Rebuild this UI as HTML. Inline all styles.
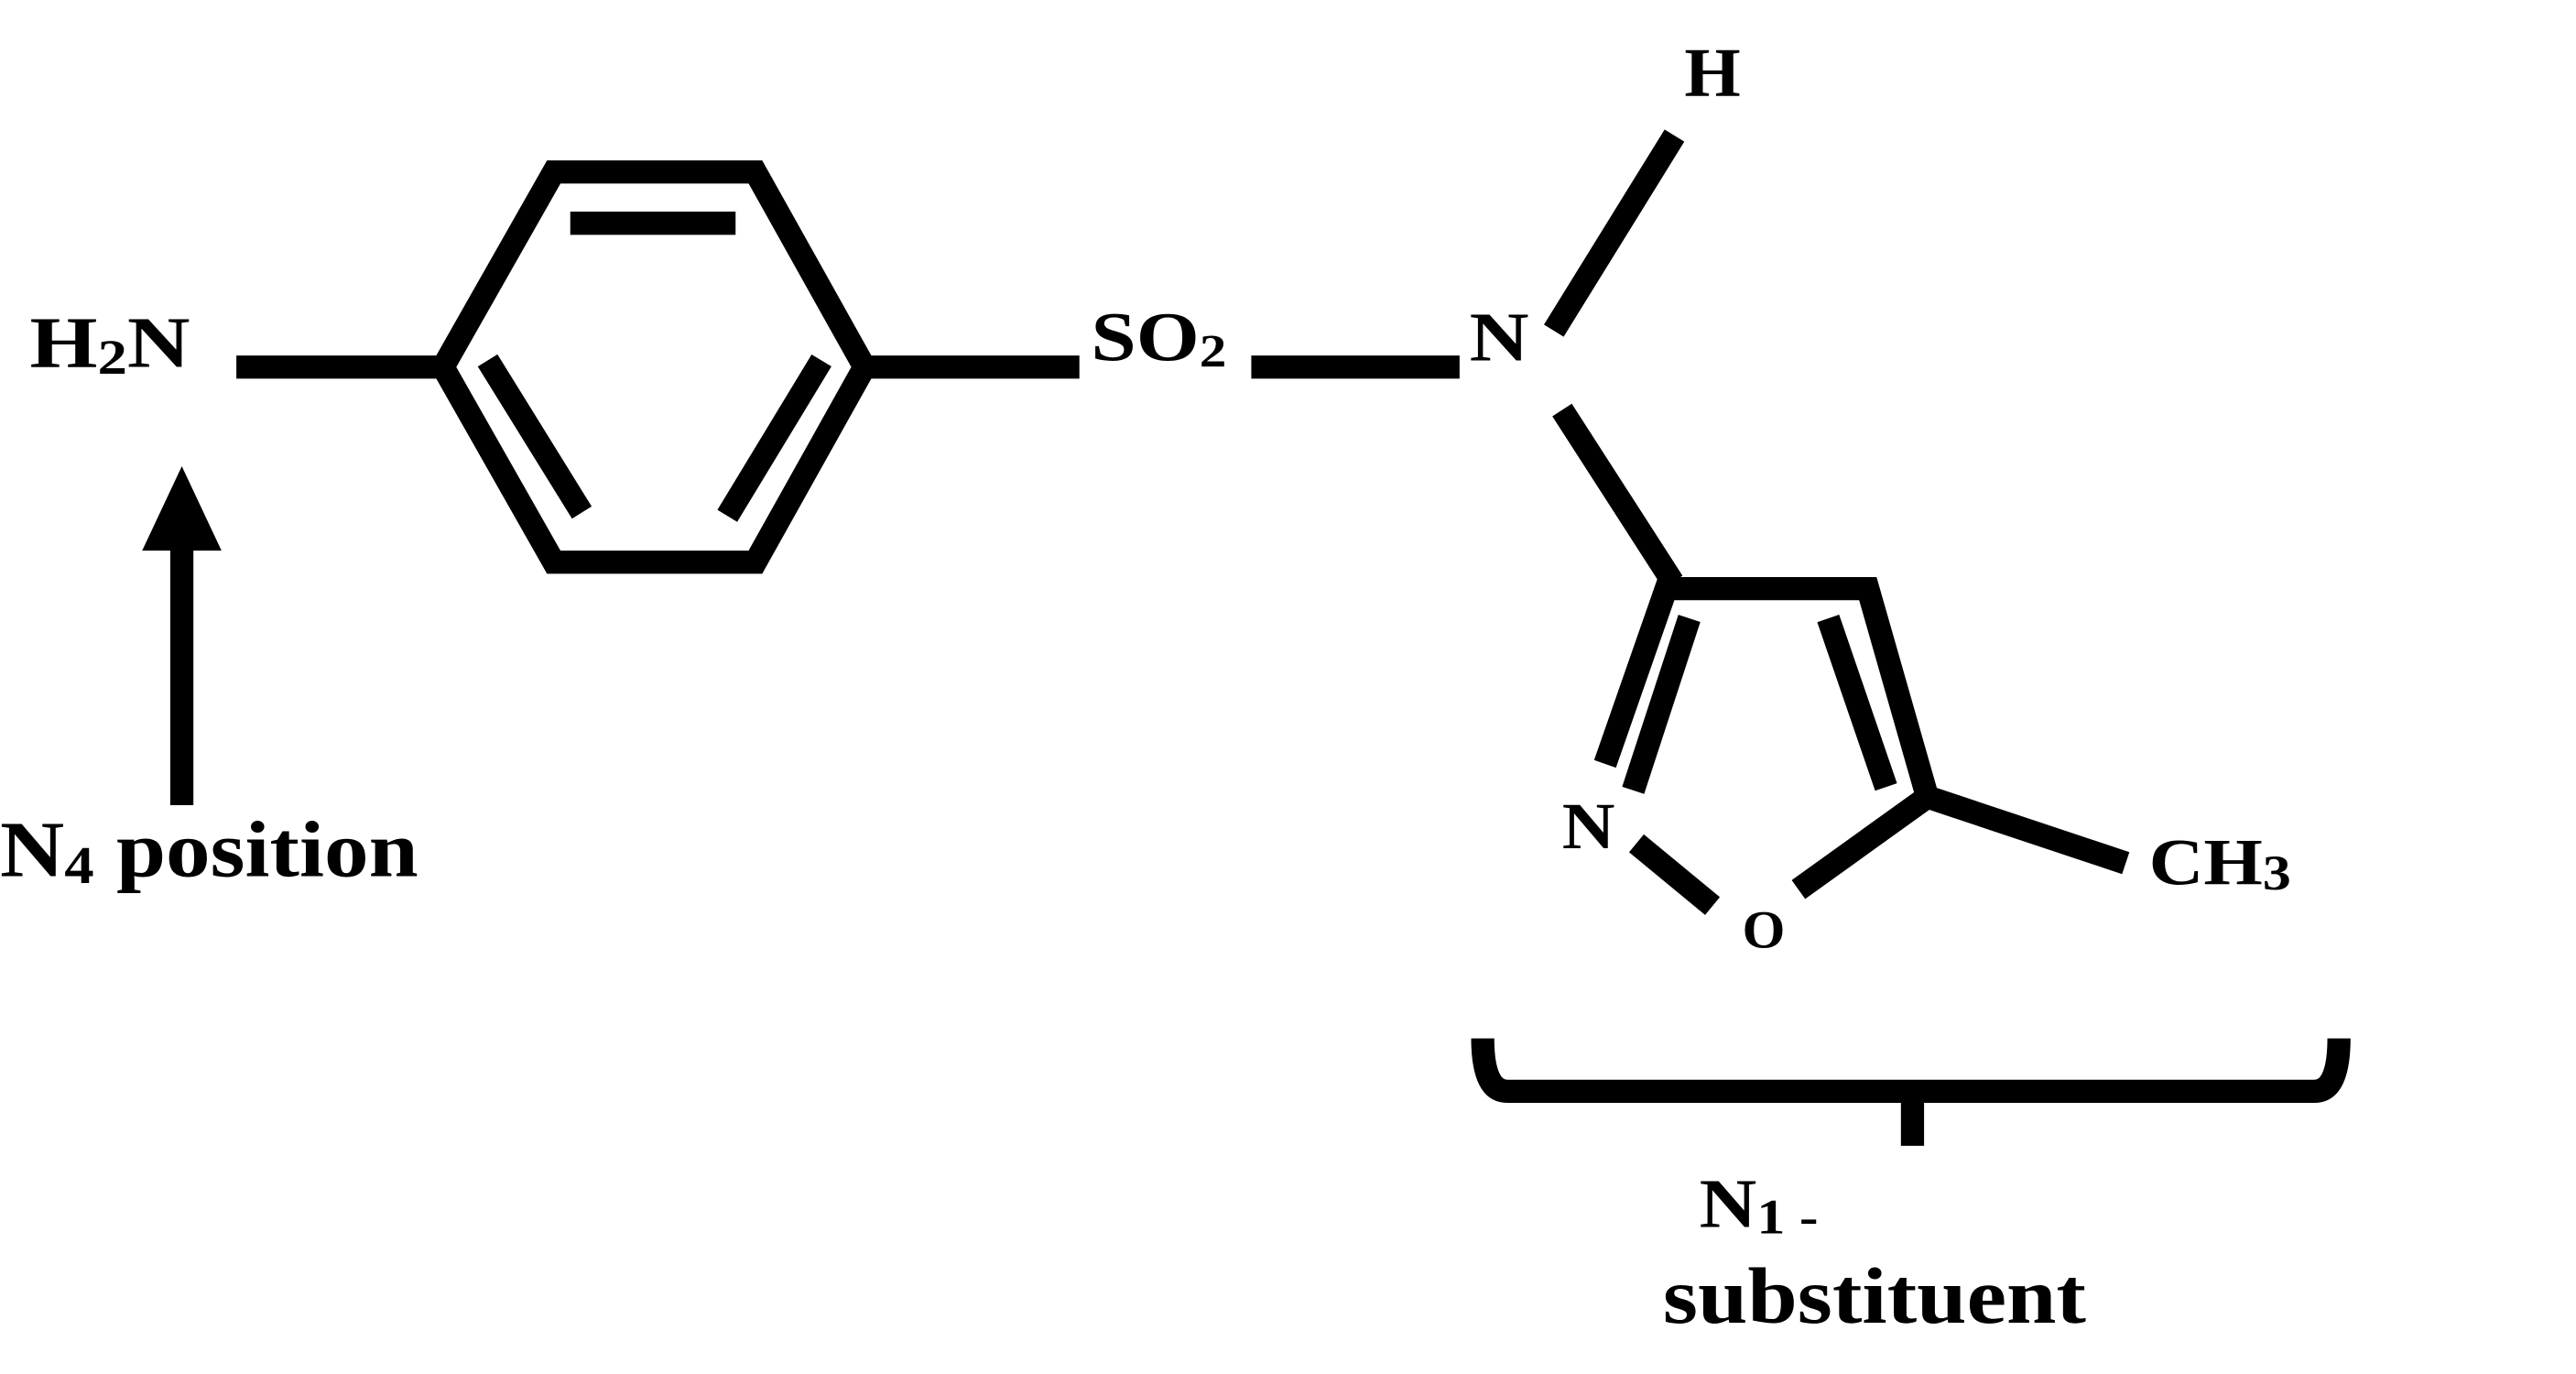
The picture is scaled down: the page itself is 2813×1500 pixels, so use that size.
<!DOCTYPE html>
<html><head><meta charset="utf-8"><style>
html,body{margin:0;padding:0;background:#fff;}
svg{display:block;}
text{font-family:"Liberation Serif",serif;font-weight:bold;fill:#000;}
</style></head><body>
<svg width="2813" height="1500" viewBox="0 0 1558.4 831" preserveAspectRatio="none" xmlns="http://www.w3.org/2000/svg">
<g stroke="#000" stroke-width="14" fill="none" stroke-linecap="butt" stroke-linejoin="miter">
<line x1="143" y1="222" x2="268" y2="222"/>
<polygon points="268,222 335,104 457,104 523,222 457,340 335,340"/>
<line x1="345" y1="135" x2="445" y2="135"/>
<line x1="295" y1="218" x2="352" y2="310"/>
<line x1="497" y1="218" x2="440" y2="312"/>
<line x1="523" y1="222" x2="653" y2="222"/>
<line x1="757" y1="222" x2="883" y2="222"/>
<line x1="940" y1="200" x2="1013" y2="82"/>
<line x1="945" y1="248" x2="1012" y2="352"/>
<polyline points="971,462 1008,356 1130,356 1166,482 1088,538"/>
<line x1="1166" y1="482" x2="1286" y2="522"/>
<line x1="1022" y1="374" x2="988" y2="478"/>
<line x1="1106" y1="374" x2="1141" y2="476"/>
<line x1="990" y1="510" x2="1036" y2="548"/>
<line x1="110" y1="322" x2="110" y2="487"/>
<path d="M897,628 Q897,660 912,660 L1400,660 Q1415,660 1415,628"/>
<line x1="1157" y1="660" x2="1157" y2="693"/>
</g>
<polygon points="110,282 86,333 134,333" fill="#000"/>
<text x="18" y="222" font-size="44" textLength="97" lengthAdjust="spacingAndGlyphs">H<tspan font-size="30" dy="4">2</tspan><tspan dy="-4">N</tspan></text>
<text x="660" y="218" font-size="42" textLength="82" lengthAdjust="spacingAndGlyphs">SO<tspan font-size="28" dy="4">2</tspan></text>
<text x="889" y="218" font-size="42" textLength="36" lengthAdjust="spacingAndGlyphs">N</text>
<text x="1019" y="58" font-size="42" textLength="34" lengthAdjust="spacingAndGlyphs">H</text>
<text x="945" y="513" font-size="40" textLength="32" lengthAdjust="spacingAndGlyphs">N</text>
<text x="1054" y="573" font-size="32" textLength="26" lengthAdjust="spacingAndGlyphs">O</text>
<text x="1300" y="535" font-size="40" textLength="86" lengthAdjust="spacingAndGlyphs">CH<tspan font-size="30" dy="3">3</tspan></text>
<text x="0" y="530" font-size="48" textLength="253" lengthAdjust="spacingAndGlyphs">N<tspan font-size="32" dy="4">4</tspan><tspan dy="-4"> position</tspan></text>
<text x="1028" y="742" font-size="42" textLength="72" lengthAdjust="spacingAndGlyphs">N<tspan font-size="30" dy="4">1 -</tspan></text>
<text x="1006" y="800" font-size="48" textLength="256" lengthAdjust="spacingAndGlyphs">substituent</text>
</svg>
</body></html>
